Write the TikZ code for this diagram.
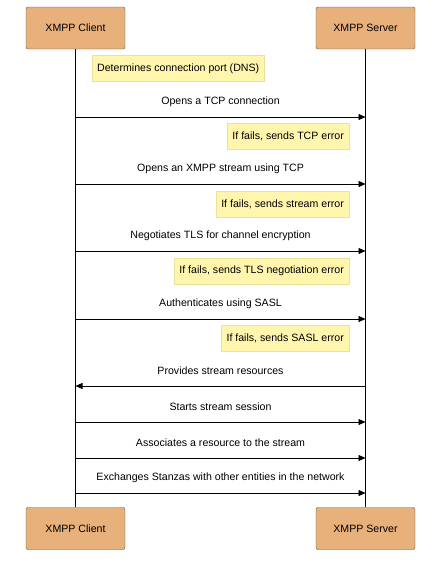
\documentclass[tikz,border=0pt]{standalone}
\usepackage{fontspec}
\setmainfont{Liberation Sans}
\usetikzlibrary{arrows.meta}
\definecolor{actorfill}{HTML}{E8B07A}
\definecolor{actorline}{HTML}{555555}
\definecolor{notefill}{HTML}{FFF5AD}
\definecolor{noteline}{HTML}{E8E39A}
\begin{document}
\begin{tikzpicture}[x=1pt, y=-1pt, font=\fontsize{10.6}{12}\selectfont,
    actor/.style = {draw=actorline, fill=actorfill, rounded corners=2pt, minimum width=99pt, minimum height=42pt},
    note/.style = {draw=noteline, fill=notefill, minimum height=26pt, inner xsep=5pt},
    msg/.style = {-{Triangle[length=7pt,width=6pt]}, semithick},
    lbl/.style = {midway, yshift=15pt}]
    \useasboundingbox (0,0) rectangle (440,571);
    \node[actor] (c1) at (75.5,28) {XMPP Client};
    \node[actor] (s1) at (365.5,28) {XMPP Server};
    \node[actor] (c2) at (75.5,528.5) {XMPP Client};
    \node[actor] (s2) at (365.5,528.5) {XMPP Server};

    % lifelines
    \draw[semithick] (c1) -- (c2);
    \draw[semithick] (s1) -- (s2);

    % message rows
    \coordinate (m1) at (0,117);
    \coordinate (m2) at (0,184);
    \coordinate (m3) at (0,251);
    \coordinate (m4) at (0,319);
    \coordinate (m5) at (0,386);
    \coordinate (m6) at (0,422);
    \coordinate (m7) at (0,458);
    \coordinate (m8) at (0,493);

    % notes
    \node[note, anchor=west] (n0) at (92,68.5) {Determines connection port (DNS)};
    \node[note, anchor=east] (n1) at (349,136) {If fails, sends TCP error};
    \node[note, anchor=east] (n2) at (349,204) {If fails, sends stream error};
    \node[note, anchor=east] (n3) at (349,271) {If fails, sends TLS negotiation error};
    \node[note, anchor=east] (n4) at (349,338) {If fails, sends SASL error};

    % messages
    \draw[msg] (c1 |- m1) -- (s1 |- m1) node[lbl] {Opens a TCP connection};
    \draw[msg] (c1 |- m2) -- (s1 |- m2) node[lbl] {Opens an XMPP stream using TCP};
    \draw[msg] (c1 |- m3) -- (s1 |- m3) node[lbl] {Negotiates TLS for channel encryption};
    \draw[msg] (c1 |- m4) -- (s1 |- m4) node[lbl] {Authenticates using SASL};
    \draw[msg] (s1 |- m5) -- (c1 |- m5) node[lbl] {Provides stream resources};
    \draw[msg] (c1 |- m6) -- (s1 |- m6) node[lbl] {Starts stream session};
    \draw[msg] (c1 |- m7) -- (s1 |- m7) node[lbl] {Associates a resource to the stream};
    \draw[msg] (c1 |- m8) -- (s1 |- m8) node[lbl] {Exchanges Stanzas with other entities in the network};
\end{tikzpicture}
\end{document}
